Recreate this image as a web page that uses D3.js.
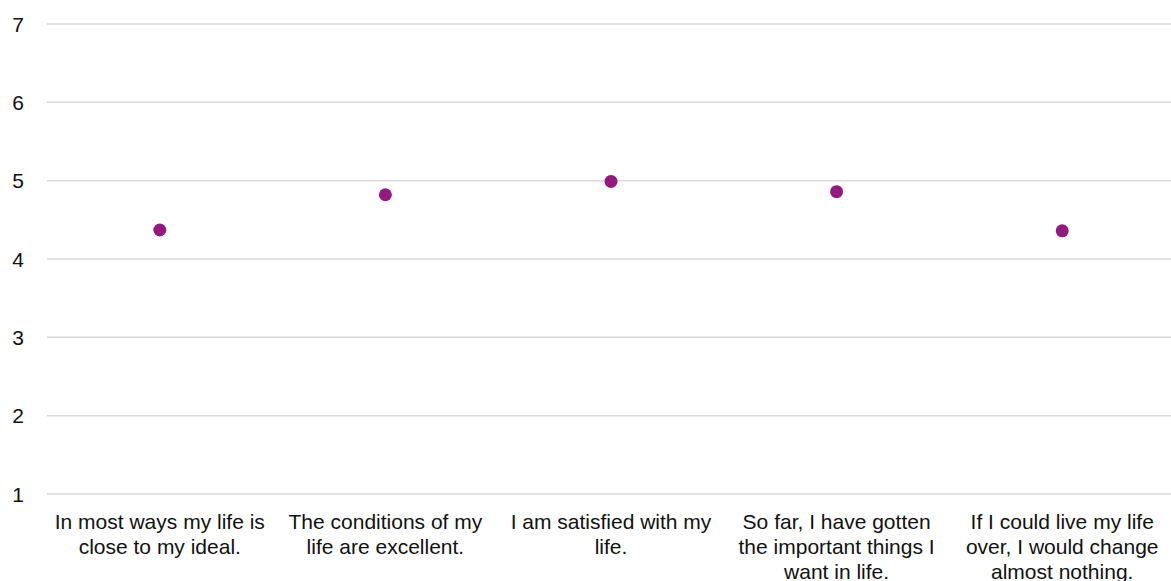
<!DOCTYPE html>
<html><head><meta charset="utf-8">
<script src="https://cdn.jsdelivr.net/npm/d3@7"></script>
<style>html,body{margin:0;padding:0;background:#fff;overflow:hidden}</style>
</head><body>
<svg id="chart" width="1171" height="581"></svg>
<script>
const categories = [
  "In most ways my life is\nclose to my ideal.",
  "The conditions of my\nlife are excellent.",
  "I am satisfied with my\nlife.",
  "So far, I have gotten\nthe important things I\nwant in life.",
  "If I could live my life\nover, I would change\nalmost nothing."
];
const values = [4.37, 4.82, 4.99, 4.86, 4.36];
const yTicks = [1, 2, 3, 4, 5, 6, 7];

const W = 1171, H = 581;
const margin = {left: 47, right: -4, top: 24, bottom: 87};
const svg = d3.select("#chart");
const font = "'Liberation Sans', Arial, Helvetica, sans-serif";

const x = d3.scaleBand().domain(d3.range(categories.length))
  .range([margin.left, W - margin.right]).padding(0);
const y = d3.scaleLinear().domain([1, 7]).range([H - margin.bottom, margin.top]);

// gridlines
svg.append("g").selectAll("line").data(yTicks).join("line")
  .attr("x1", margin.left).attr("x2", W)
  .attr("y1", d => y(d)).attr("y2", d => y(d))
  .attr("stroke", "#d9d9d9").attr("stroke-width", 1.5);

// y tick labels
svg.append("g").selectAll("text").data(yTicks).join("text")
  .attr("x", 24).attr("y", d => y(d)).attr("dy", "0.36em")
  .attr("text-anchor", "end")
  .attr("font-family", font).attr("font-size", 21).attr("fill", "#111")
  .text(d => d);

// x labels
const xl = svg.append("g").selectAll("text").data(categories).join("text")
  .attr("x", (d, i) => x(i) + x.bandwidth() / 2)
  .attr("y", H - margin.bottom + 35)
  .attr("text-anchor", "middle")
  .attr("font-family", font).attr("font-size", 21).attr("fill", "#111");
xl.each(function(d) {
  const t = d3.select(this);
  const cx = t.attr("x");
  d.split("\n").forEach((line, k) => {
    t.append("tspan").attr("x", cx).attr("dy", k === 0 ? 0 : 25).text(line);
  });
});

// dots
svg.append("g").selectAll("circle").data(values).join("circle")
  .attr("cx", (d, i) => x(i) + x.bandwidth() / 2)
  .attr("cy", d => y(d))
  .attr("r", 6.5)
  .attr("fill", "#941a80");
</script>
</body></html>
